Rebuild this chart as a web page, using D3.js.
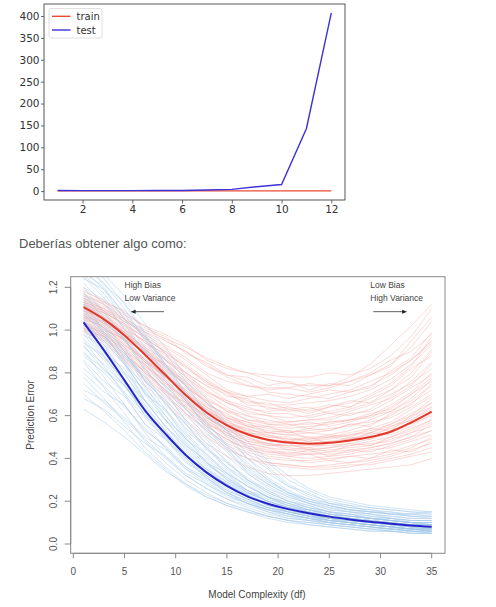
<!DOCTYPE html>
<html>
<head>
<meta charset="utf-8">
<script src="https://cdn.jsdelivr.net/npm/d3@7"></script>
<style>
  body { margin: 0; background: #fff; }
  svg { display: block; }
</style>
</head>
<body>
<div id="root"></div>
<script>
// top chart: polynomial degree vs error
const degrees = [1, 2, 3, 4, 5, 6, 7, 8, 9, 10, 11, 12];
const trainErr = [0.9, 0.8, 0.7, 0.7, 0.6, 0.6, 0.6, 0.6, 0.5, 0.5, 0.5, 0.5];
const testErr = [1.2, 1.0, 1.0, 1.1, 1.2, 1.5, 2.5, 4, 10, 15, 143, 407];
const topXTicks = [2, 4, 6, 8, 10, 12];
const topYTicks = [0, 50, 100, 150, 200, 250, 300, 350, 400];

// bottom chart: prediction error vs model complexity
const dfGrid = [1, 3, 5, 7, 9, 11, 13, 15, 17, 19, 21, 23, 25, 27, 29, 31, 33, 35];
const testMean = [1.107, 1.050, 0.975, 0.885, 0.790, 0.695, 0.615, 0.555, 0.513, 0.487, 0.474, 0.469, 0.473, 0.484, 0.500, 0.525, 0.568, 0.619];
const trainMean = [1.036, 0.905, 0.765, 0.625, 0.515, 0.415, 0.335, 0.272, 0.223, 0.188, 0.163, 0.144, 0.128, 0.115, 0.104, 0.095, 0.087, 0.081];

const testRuns = [
  [1.18,1.14,1.08,1.02,0.98,0.93,0.86,0.82,0.80,0.79,0.78,0.78,0.80,0.79,0.82,0.88,0.97,1.10],
  [1.15,1.10,1.04,0.99,0.95,0.90,0.84,0.78,0.74,0.72,0.73,0.75,0.74,0.78,0.84,0.93,1.02,1.12],
  [1.12,1.08,1.03,0.96,0.90,0.83,0.76,0.71,0.69,0.70,0.68,0.70,0.72,0.71,0.74,0.79,0.86,0.94],
  [1.10,1.06,0.99,0.92,0.86,0.78,0.71,0.66,0.63,0.62,0.63,0.61,0.64,0.67,0.66,0.72,0.80,0.91],
  [1.09,1.05,0.97,0.89,0.82,0.74,0.66,0.60,0.57,0.55,0.54,0.55,0.56,0.58,0.61,0.63,0.70,0.78],
  [1.11,1.05,0.98,0.88,0.80,0.71,0.62,0.56,0.52,0.50,0.49,0.48,0.49,0.51,0.53,0.56,0.61,0.66],
  [1.08,1.02,0.95,0.85,0.78,0.69,0.60,0.54,0.50,0.47,0.46,0.46,0.46,0.47,0.49,0.52,0.56,0.60],
  [1.06,1.00,0.92,0.83,0.75,0.66,0.58,0.51,0.47,0.45,0.44,0.43,0.44,0.45,0.46,0.49,0.52,0.55],
  [1.04,0.98,0.90,0.80,0.72,0.63,0.55,0.49,0.44,0.42,0.41,0.40,0.41,0.42,0.44,0.45,0.48,0.51],
  [1.02,0.96,0.87,0.77,0.69,0.60,0.51,0.45,0.40,0.38,0.37,0.36,0.37,0.38,0.39,0.41,0.44,0.47],
  [1.00,0.93,0.84,0.74,0.66,0.56,0.47,0.41,0.36,0.33,0.32,0.32,0.33,0.34,0.35,0.36,0.37,0.40],
  [1.13,1.09,1.02,0.94,0.87,0.79,0.72,0.66,0.62,0.60,0.59,0.60,0.62,0.64,0.69,0.74,0.82,0.88],
  [1.16,1.12,1.06,0.99,0.93,0.87,0.80,0.76,0.74,0.73,0.73,0.71,0.73,0.76,0.80,0.86,0.90,0.98],
  [1.07,1.03,0.96,0.90,0.83,0.76,0.68,0.62,0.58,0.57,0.57,0.58,0.59,0.62,0.65,0.68,0.74,0.84],
  [1.05,0.99,0.93,0.86,0.79,0.71,0.63,0.57,0.53,0.52,0.51,0.52,0.51,0.53,0.56,0.60,0.66,0.72],
  [1.12,1.06,0.99,0.91,0.83,0.74,0.64,0.58,0.55,0.53,0.52,0.53,0.54,0.55,0.58,0.62,0.67,0.74],
  [1.03,0.97,0.89,0.79,0.70,0.61,0.53,0.47,0.43,0.40,0.39,0.39,0.40,0.41,0.42,0.43,0.46,0.49],
  [1.09,1.03,0.95,0.86,0.77,0.68,0.59,0.53,0.49,0.47,0.45,0.44,0.45,0.46,0.48,0.50,0.54,0.58],
  [1.14,1.10,1.05,1.00,0.96,0.92,0.87,0.83,0.80,0.77,0.75,0.74,0.74,0.76,0.79,0.84,0.92,1.04],
  [1.10,1.04,0.96,0.86,0.78,0.70,0.62,0.57,0.54,0.51,0.49,0.49,0.50,0.51,0.52,0.55,0.58,0.63],
  [1.06,1.01,0.94,0.85,0.76,0.67,0.58,0.52,0.48,0.46,0.46,0.45,0.47,0.49,0.50,0.53,0.57,0.62],
  [1.01,0.95,0.86,0.76,0.67,0.58,0.50,0.44,0.40,0.37,0.36,0.35,0.35,0.36,0.38,0.40,0.42,0.45],
  [1.11,1.07,1.00,0.93,0.86,0.78,0.70,0.64,0.60,0.58,0.56,0.56,0.57,0.58,0.60,0.65,0.71,0.80],
  [1.17,1.12,1.05,0.97,0.91,0.84,0.77,0.71,0.67,0.65,0.65,0.66,0.67,0.69,0.72,0.77,0.84,0.93],
  [1.08,1.04,0.98,0.91,0.84,0.75,0.66,0.59,0.55,0.52,0.51,0.50,0.50,0.52,0.54,0.57,0.63,0.69],
  [1.04,0.99,0.91,0.82,0.74,0.65,0.57,0.50,0.46,0.43,0.43,0.42,0.43,0.44,0.45,0.47,0.50,0.53],
  [1.13,1.07,0.99,0.90,0.81,0.72,0.64,0.59,0.56,0.54,0.53,0.52,0.53,0.56,0.57,0.59,0.64,0.70],
  [1.07,1.01,0.93,0.84,0.76,0.67,0.59,0.54,0.51,0.49,0.48,0.47,0.48,0.49,0.51,0.54,0.58,0.64],
  [1.02,0.97,0.89,0.80,0.71,0.63,0.55,0.49,0.45,0.43,0.42,0.42,0.42,0.43,0.45,0.47,0.50,0.56],
  [1.15,1.11,1.05,0.98,0.92,0.86,0.79,0.72,0.69,0.67,0.66,0.68,0.70,0.72,0.76,0.80,0.86,0.95],
  [1.12,1.09,1.01,0.95,0.88,0.80,0.74,0.70,0.66,0.66,0.63,0.64,0.61,0.63,0.66,0.70,0.75,0.82],
  [1.05,1.02,0.93,0.87,0.78,0.72,0.62,0.58,0.52,0.51,0.48,0.50,0.47,0.50,0.49,0.55,0.59,0.66],
  [1.10,1.03,0.99,0.89,0.84,0.73,0.67,0.59,0.57,0.52,0.53,0.49,0.51,0.50,0.54,0.53,0.60,0.64],
  [1.00,0.97,0.88,0.82,0.71,0.66,0.56,0.52,0.46,0.44,0.41,0.42,0.39,0.41,0.40,0.44,0.43,0.48],
  [1.19,1.13,1.09,1.01,0.97,0.89,0.85,0.79,0.78,0.74,0.76,0.72,0.75,0.74,0.79,0.83,0.95,1.06],
  [1.06,1.04,0.95,0.90,0.81,0.75,0.65,0.61,0.55,0.55,0.52,0.54,0.53,0.56,0.55,0.61,0.65,0.75],
  [1.14,1.08,1.03,0.94,0.89,0.80,0.74,0.67,0.64,0.61,0.61,0.59,0.61,0.60,0.63,0.69,0.76,0.85],
  [1.03,0.98,0.92,0.83,0.76,0.66,0.60,0.53,0.50,0.46,0.47,0.44,0.45,0.47,0.46,0.50,0.53,0.58],
  [1.09,1.06,0.98,0.91,0.82,0.76,0.67,0.63,0.58,0.56,0.55,0.57,0.55,0.57,0.60,0.62,0.68,0.77],
  [1.01,0.96,0.87,0.81,0.72,0.64,0.56,0.48,0.45,0.41,0.40,0.38,0.39,0.38,0.40,0.42,0.45,0.50],
  [1.16,1.13,1.07,1.02,0.95,0.90,0.83,0.79,0.76,0.71,0.70,0.69,0.68,0.71,0.73,0.81,0.87,0.99],
  [1.08,1.01,0.95,0.85,0.79,0.69,0.63,0.56,0.53,0.48,0.48,0.47,0.48,0.48,0.52,0.51,0.55,0.61],
  [1.11,1.08,1.00,0.95,0.86,0.80,0.71,0.67,0.61,0.60,0.57,0.58,0.58,0.61,0.62,0.67,0.73,0.79],
  [1.04,0.97,0.91,0.80,0.74,0.64,0.57,0.51,0.47,0.45,0.42,0.44,0.41,0.44,0.43,0.46,0.49,0.53],
  [1.13,1.10,1.02,0.97,0.89,0.83,0.75,0.71,0.65,0.64,0.62,0.63,0.65,0.64,0.68,0.72,0.78,0.90],
  [1.07,1.00,0.96,0.86,0.80,0.70,0.64,0.56,0.54,0.50,0.50,0.48,0.50,0.49,0.52,0.56,0.60,0.68],
  [1.02,0.99,0.90,0.84,0.75,0.68,0.59,0.54,0.48,0.47,0.44,0.45,0.43,0.46,0.47,0.48,0.52,0.57],
  [1.15,1.09,1.04,0.96,0.90,0.82,0.76,0.69,0.68,0.63,0.64,0.62,0.64,0.66,0.70,0.75,0.83,0.97],
  [0.99,0.95,0.86,0.78,0.70,0.61,0.54,0.46,0.42,0.38,0.37,0.36,0.36,0.37,0.37,0.39,0.41,0.43],
  [1.12,1.05,0.99,0.92,0.84,0.77,0.69,0.62,0.60,0.56,0.56,0.54,0.57,0.58,0.59,0.64,0.70,0.76]
];

const trainRuns = [
  [1.30,1.22,1.10,0.95,0.82,0.70,0.60,0.52,0.40,0.31,0.25,0.21,0.18,0.16,0.15,0.14,0.14,0.15],
  [1.25,1.15,1.03,0.89,0.76,0.63,0.53,0.45,0.33,0.26,0.22,0.19,0.17,0.15,0.14,0.13,0.12,0.12],
  [1.20,1.08,0.96,0.82,0.70,0.58,0.47,0.39,0.30,0.24,0.20,0.17,0.15,0.14,0.13,0.12,0.11,0.11],
  [1.14,1.02,0.90,0.76,0.63,0.52,0.42,0.34,0.27,0.22,0.19,0.16,0.14,0.13,0.12,0.11,0.10,0.10],
  [1.10,0.98,0.85,0.70,0.58,0.47,0.38,0.31,0.25,0.21,0.18,0.15,0.13,0.12,0.11,0.10,0.09,0.09],
  [1.05,0.93,0.80,0.65,0.53,0.42,0.34,0.28,0.23,0.19,0.16,0.14,0.12,0.11,0.10,0.09,0.08,0.08],
  [1.00,0.88,0.75,0.60,0.49,0.39,0.31,0.25,0.21,0.17,0.15,0.13,0.11,0.10,0.09,0.08,0.07,0.07],
  [0.95,0.83,0.70,0.56,0.45,0.35,0.28,0.23,0.19,0.16,0.14,0.12,0.10,0.09,0.08,0.07,0.07,0.06],
  [0.90,0.78,0.65,0.52,0.41,0.32,0.26,0.21,0.17,0.14,0.12,0.11,0.09,0.08,0.07,0.06,0.06,0.05],
  [0.85,0.73,0.61,0.48,0.38,0.30,0.24,0.19,0.16,0.13,0.11,0.10,0.09,0.08,0.07,0.06,0.05,0.05],
  [0.78,0.68,0.57,0.45,0.36,0.28,0.22,0.18,0.15,0.13,0.11,0.09,0.08,0.07,0.06,0.06,0.05,0.05],
  [0.70,0.62,0.53,0.43,0.35,0.27,0.22,0.18,0.15,0.12,0.10,0.09,0.08,0.07,0.06,0.06,0.05,0.05],
  [0.63,0.57,0.50,0.42,0.34,0.28,0.23,0.19,0.16,0.13,0.11,0.10,0.09,0.08,0.07,0.07,0.06,0.06],
  [1.28,1.19,1.08,0.97,0.86,0.74,0.62,0.53,0.45,0.36,0.28,0.23,0.20,0.18,0.17,0.16,0.15,0.15],
  [1.22,1.12,1.01,0.90,0.80,0.68,0.56,0.47,0.38,0.30,0.24,0.20,0.18,0.16,0.15,0.14,0.13,0.13],
  [1.16,1.06,0.95,0.84,0.73,0.61,0.50,0.41,0.33,0.27,0.22,0.19,0.16,0.15,0.13,0.12,0.11,0.11],
  [1.08,0.97,0.86,0.73,0.62,0.51,0.41,0.33,0.27,0.22,0.19,0.16,0.14,0.13,0.12,0.11,0.10,0.09],
  [1.02,0.91,0.79,0.67,0.55,0.45,0.36,0.29,0.24,0.20,0.17,0.15,0.13,0.12,0.11,0.10,0.09,0.09],
  [0.98,0.87,0.77,0.64,0.53,0.43,0.35,0.29,0.23,0.19,0.16,0.14,0.12,0.11,0.10,0.09,0.08,0.08],
  [0.92,0.84,0.74,0.62,0.51,0.41,0.33,0.27,0.22,0.18,0.16,0.14,0.12,0.10,0.09,0.08,0.08,0.07],
  [0.88,0.80,0.70,0.59,0.49,0.40,0.32,0.26,0.21,0.17,0.15,0.13,0.11,0.10,0.09,0.08,0.07,0.07],
  [1.18,1.04,0.90,0.74,0.60,0.48,0.38,0.30,0.24,0.20,0.17,0.15,0.13,0.12,0.11,0.10,0.09,0.08],
  [1.12,0.99,0.84,0.67,0.55,0.44,0.35,0.28,0.22,0.18,0.15,0.13,0.12,0.11,0.10,0.09,0.08,0.08],
  [1.04,0.95,0.84,0.71,0.60,0.49,0.40,0.32,0.25,0.20,0.17,0.15,0.13,0.12,0.11,0.10,0.09,0.09],
  [0.96,0.86,0.74,0.62,0.50,0.40,0.31,0.24,0.19,0.16,0.14,0.12,0.11,0.10,0.09,0.08,0.07,0.06],
  [1.26,1.17,1.05,0.92,0.80,0.67,0.55,0.44,0.35,0.28,0.23,0.20,0.18,0.16,0.15,0.14,0.13,0.12],
  [0.82,0.74,0.64,0.54,0.45,0.36,0.29,0.23,0.19,0.16,0.13,0.12,0.10,0.09,0.08,0.07,0.07,0.06],
  [1.06,0.96,0.88,0.78,0.68,0.56,0.45,0.36,0.28,0.22,0.18,0.16,0.14,0.13,0.12,0.11,0.10,0.10],
  [0.75,0.66,0.58,0.49,0.40,0.32,0.26,0.21,0.18,0.15,0.12,0.11,0.10,0.09,0.08,0.07,0.06,0.06],
  [1.34,1.24,1.12,0.98,0.84,0.70,0.57,0.46,0.37,0.30,0.24,0.21,0.19,0.17,0.16,0.15,0.14,0.14],
  [1.24,1.19,1.05,0.97,0.83,0.74,0.61,0.53,0.42,0.35,0.27,0.24,0.19,0.18,0.15,0.15,0.13,0.13],
  [1.15,1.04,0.96,0.81,0.72,0.57,0.49,0.38,0.31,0.25,0.21,0.18,0.15,0.14,0.12,0.12,0.10,0.10],
  [0.98,0.92,0.80,0.72,0.58,0.50,0.38,0.33,0.25,0.22,0.17,0.16,0.13,0.12,0.10,0.10,0.08,0.08],
  [0.86,0.76,0.69,0.56,0.49,0.38,0.32,0.25,0.21,0.17,0.15,0.13,0.11,0.10,0.09,0.08,0.07,0.07],
  [1.32,1.21,1.13,0.99,0.89,0.76,0.66,0.55,0.46,0.38,0.30,0.25,0.21,0.19,0.17,0.16,0.15,0.14],
  [1.09,1.01,0.87,0.79,0.65,0.56,0.44,0.38,0.30,0.25,0.20,0.18,0.15,0.14,0.12,0.11,0.10,0.09],
  [0.93,0.81,0.74,0.60,0.52,0.41,0.35,0.27,0.23,0.18,0.16,0.13,0.12,0.10,0.09,0.08,0.07,0.06],
  [1.20,1.14,1.00,0.91,0.77,0.67,0.54,0.46,0.36,0.29,0.24,0.20,0.17,0.16,0.14,0.13,0.12,0.12],
  [0.80,0.71,0.65,0.53,0.46,0.36,0.31,0.24,0.20,0.16,0.14,0.12,0.10,0.09,0.08,0.07,0.06,0.06],
  [1.03,0.94,0.85,0.70,0.63,0.49,0.42,0.33,0.27,0.22,0.18,0.16,0.14,0.12,0.11,0.10,0.09,0.09],
  [1.27,1.20,1.07,0.96,0.84,0.71,0.60,0.50,0.40,0.33,0.27,0.22,0.19,0.17,0.16,0.14,0.14,0.13],
  [0.68,0.63,0.55,0.47,0.41,0.33,0.28,0.22,0.19,0.15,0.13,0.11,0.10,0.09,0.08,0.07,0.06,0.05],
  [1.13,1.00,0.92,0.76,0.67,0.53,0.45,0.35,0.29,0.23,0.19,0.17,0.14,0.13,0.12,0.11,0.10,0.10],
  [0.94,0.88,0.76,0.67,0.55,0.46,0.37,0.31,0.24,0.20,0.17,0.14,0.12,0.11,0.10,0.09,0.08,0.07],
  [1.36,1.26,1.16,1.03,0.92,0.78,0.68,0.56,0.48,0.39,0.32,0.26,0.22,0.20,0.18,0.17,0.16,0.15],
  [1.01,0.89,0.82,0.67,0.58,0.46,0.39,0.30,0.25,0.20,0.17,0.15,0.12,0.11,0.10,0.09,0.08,0.07],
  [0.72,0.67,0.59,0.50,0.44,0.35,0.30,0.24,0.20,0.17,0.14,0.12,0.11,0.10,0.09,0.08,0.07,0.07],
  [1.17,1.09,0.97,0.86,0.74,0.63,0.52,0.43,0.34,0.28,0.23,0.19,0.16,0.15,0.14,0.12,0.11,0.11],
  [0.89,0.82,0.71,0.61,0.50,0.42,0.33,0.28,0.22,0.19,0.15,0.14,0.11,0.10,0.09,0.08,0.07,0.07],
  [1.07,0.99,0.89,0.77,0.66,0.54,0.46,0.36,0.30,0.24,0.20,0.17,0.15,0.13,0.12,0.11,0.10,0.09]
];
const bottomXTicks = [0, 5, 10, 15, 20, 25, 30, 35];
const bottomYTicks = [0, 0.2, 0.4, 0.6, 0.8, 1.0, 1.2];

const width = 496;
const height = 607;

const svg = d3.select('#root').append('svg')
  .attr('width', width)
  .attr('height', height);

// ---------- top chart (matplotlib look) ----------
const topBox = { left: 44, right: 345, top: 4, bottom: 200 };
const x1 = d3.scaleLinear().domain([0.45, 12.55]).range([topBox.left, topBox.right]);
const y1 = d3.scaleLinear().domain([-20.35, 427.35]).range([topBox.bottom, topBox.top]);

const g1 = svg.append('g').attr('font-family', 'DejaVu Sans, sans-serif');

g1.append('g')
  .attr('transform', `translate(0,${topBox.bottom})`)
  .call(d3.axisBottom(x1).tickValues(topXTicks).tickSize(3.5).tickPadding(2.5).tickSizeOuter(0))
  .call(a => a.select('.domain').remove())
  .call(a => a.selectAll('text').attr('font-size', 10.5).attr('fill', '#333').attr('font-family', 'DejaVu Sans, sans-serif'))
  .call(a => a.selectAll('line').attr('stroke', '#444').attr('stroke-width', 0.8));

g1.append('g')
  .attr('transform', `translate(${topBox.left},0)`)
  .call(d3.axisLeft(y1).tickValues(topYTicks).tickSize(3).tickPadding(1.5).tickSizeOuter(0))
  .call(a => a.select('.domain').remove())
  .call(a => a.selectAll('text').attr('font-size', 10.5).attr('fill', '#333').attr('font-family', 'DejaVu Sans, sans-serif'))
  .call(a => a.selectAll('line').attr('stroke', '#444').attr('stroke-width', 0.8));

const line1 = d3.line().x((d, i) => x1(degrees[i])).y(d => y1(d));

g1.append('path').datum(trainErr)
  .attr('d', line1).attr('fill', 'none')
  .attr('stroke', '#ec4a34').attr('stroke-width', 1.4);

g1.append('path').datum(testErr)
  .attr('d', line1).attr('fill', 'none')
  .attr('stroke', '#3d31d8').attr('stroke-width', 1.4);

g1.append('rect')
  .attr('x', topBox.left).attr('y', topBox.top)
  .attr('width', topBox.right - topBox.left).attr('height', topBox.bottom - topBox.top)
  .attr('fill', 'none').attr('stroke', '#444').attr('stroke-width', 0.9);

// legend
const legend = g1.append('g');
legend.append('rect')
  .attr('x', 49).attr('y', 8.5).attr('width', 53).attr('height', 29.5)
  .attr('rx', 2).attr('fill', '#fff').attr('fill-opacity', 0.8)
  .attr('stroke', '#d8d8d8').attr('stroke-width', 0.8);
[['train', '#ec4a34'], ['test', '#3d31d8']].forEach(([name, color], i) => {
  const yy = 16.3 + i * 13.7;
  legend.append('line')
    .attr('x1', 52).attr('x2', 70.5).attr('y1', yy).attr('y2', yy)
    .attr('stroke', color).attr('stroke-width', 1.4);
  legend.append('text')
    .attr('x', 76.5).attr('y', yy).attr('dy', '0.35em')
    .attr('font-size', 10).attr('fill', '#333')
    .text(name);
});

// ---------- paragraph text ----------
svg.append('text')
  .attr('x', 19).attr('y', 247.5)
  .attr('font-family', 'Liberation Sans, Arial, sans-serif')
  .attr('font-size', 13).attr('fill', '#555')
  .text('Deberías obtener algo como:');

// ---------- bottom chart (R look) ----------
const box = { left: 70.7, right: 445, top: 276.7, bottom: 553.3 };
const x2 = d3.scaleLinear().domain([0, 35]).range([73.3, 431.7]);
const y2 = d3.scaleLinear().domain([0, 1.2]).range([544, 287.3]);

const g2 = svg.append('g').attr('font-family', 'Liberation Sans, Arial, sans-serif');

g2.append('clipPath').attr('id', 'plotclip')
  .append('rect')
  .attr('x', box.left).attr('y', box.top)
  .attr('width', box.right - box.left).attr('height', box.bottom - box.top);

const line2 = d3.line().x((d, i) => x2(dfGrid[i])).y(d => y2(d));
const smooth2 = d3.line().x((d, i) => x2(dfGrid[i])).y(d => y2(d)).curve(d3.curveCatmullRom);

const plot = g2.append('g').attr('clip-path', 'url(#plotclip)');

plot.append('g').selectAll('path')
  .data(testRuns)
  .join('path')
  .attr('d', line2)
  .attr('fill', 'none')
  .attr('stroke', '#f6a9a6')
  .attr('stroke-opacity', 0.55)
  .attr('stroke-width', 0.8);

plot.append('g').selectAll('path')
  .data(trainRuns)
  .join('path')
  .attr('d', line2)
  .attr('fill', 'none')
  .attr('stroke', '#a3c9e9')
  .attr('stroke-opacity', 0.6)
  .attr('stroke-width', 0.8);

plot.append('path').datum(testMean)
  .attr('d', smooth2).attr('fill', 'none')
  .attr('stroke', '#e2392b').attr('stroke-width', 2);

plot.append('path').datum(trainMean)
  .attr('d', smooth2).attr('fill', 'none')
  .attr('stroke', '#2424c8').attr('stroke-width', 2);

g2.append('rect')
  .attr('x', box.left).attr('y', box.top)
  .attr('width', box.right - box.left).attr('height', box.bottom - box.top)
  .attr('fill', 'none').attr('stroke', '#888').attr('stroke-width', 1);

// x axis
const xAxis = g2.append('g').attr('transform', `translate(0,${box.bottom})`);
xAxis.append('line')
  .attr('x1', x2(0)).attr('x2', x2(35))
  .attr('stroke', '#888');
xAxis.selectAll('.tk').data(bottomXTicks).join('line')
  .attr('x1', d => x2(d)).attr('x2', d => x2(d))
  .attr('y1', 0).attr('y2', 5)
  .attr('stroke', '#888');
xAxis.selectAll('text').data(bottomXTicks).join('text')
  .attr('x', d => x2(d)).attr('y', 18.4)
  .attr('dy', '0.35em').attr('text-anchor', 'middle')
  .attr('font-size', 10).attr('fill', '#555')
  .text(d => d);

// y axis, labels rotated like R
const yAxis = g2.append('g').attr('transform', `translate(${box.left},0)`);
yAxis.append('line')
  .attr('y1', y2(0)).attr('y2', y2(1.2))
  .attr('stroke', '#888');
yAxis.selectAll('.tk').data(bottomYTicks).join('line')
  .attr('x1', 0).attr('x2', -6)
  .attr('y1', d => y2(d)).attr('y2', d => y2(d))
  .attr('stroke', '#888');
yAxis.selectAll('text').data(bottomYTicks).join('text')
  .attr('transform', d => `translate(-17.4,${y2(d)}) rotate(-90)`)
  .attr('dy', '0.35em').attr('text-anchor', 'middle')
  .attr('font-size', 10).attr('fill', '#555')
  .text(d => d3.format('.1f')(d));

g2.append('text')
  .attr('x', 257).attr('y', 594).attr('dy', '0.35em')
  .attr('text-anchor', 'middle').attr('font-size', 10).attr('fill', '#444')
  .text('Model Complexity (df)');

g2.append('text')
  .attr('transform', 'translate(30,415) rotate(-90)')
  .attr('dy', '0.35em').attr('text-anchor', 'middle')
  .attr('font-size', 10).attr('fill', '#444')
  .text('Prediction Error');

// annotations
const notes = g2.append('g').attr('font-size', 8.5).attr('fill', '#444');
notes.append('text').attr('x', x2(5)).attr('y', y2(1.21)).attr('dy', '0.35em').text('High Bias');
notes.append('text').attr('x', x2(5)).attr('y', y2(1.149)).attr('dy', '0.35em').text('Low Variance');
notes.append('text').attr('x', x2(29)).attr('y', y2(1.21)).attr('dy', '0.35em').text('Low Bias');
notes.append('text').attr('x', x2(29)).attr('y', y2(1.149)).attr('dy', '0.35em').text('High Variance');

const arrow = (from, to) => {
  const yy = y2(1.086);
  const xa = x2(from), xb = x2(to);
  const dir = xb > xa ? 1 : -1;
  g2.append('line')
    .attr('x1', xa).attr('x2', xb - dir * 3).attr('y1', yy).attr('y2', yy)
    .attr('stroke', '#333').attr('stroke-width', 0.8);
  g2.append('path')
    .attr('d', `M${xb},${yy} L${xb - dir * 5},${yy - 2} L${xb - dir * 5},${yy + 2} Z`)
    .attr('fill', '#222');
};
arrow(8.85, 5.6);
arrow(29.3, 32.6);
</script>
</body>
</html>
